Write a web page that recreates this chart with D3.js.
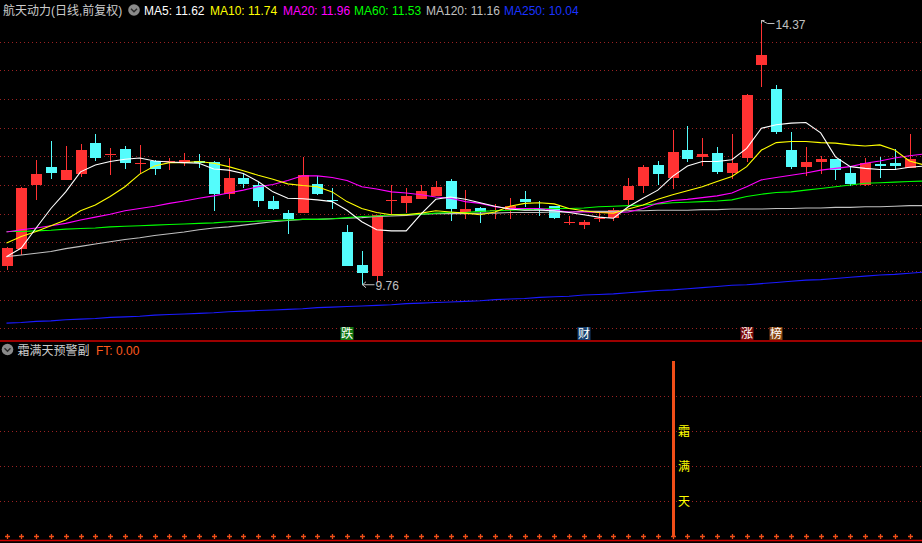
<!DOCTYPE html>
<html><head><meta charset="utf-8">
<script src="https://cdn.jsdelivr.net/npm/d3@7/dist/d3.min.js"></script>
<style>html,body{margin:0;padding:0;background:#000;overflow:hidden}svg{display:block}</style>
</head><body>
<svg id="chart" width="922" height="543"></svg>
<script>
// ---------------- data ----------------
const stockName = "航天动力(日线,前复权)";
const opens  = [10.09,10.38,11.50,11.81,11.59,11.69,12.23,12.03,12.13,11.87,11.92,11.90,11.90,11.92,11.90,11.34,11.62,11.50,11.22,11.01,11.02,11.52,11.24,10.68,10.10,9.92,11.23,11.19,11.26,11.31,11.57,11.03,11.10,11.05,11.06,11.26,11.09,11.13,10.85,10.80,10.92,10.92,11.24,11.48,11.85,11.62,12.11,11.99,12.06,11.71,11.97,13.59,13.18,12.11,11.81,11.90,11.95,11.71,11.50,11.87,11.89,11.80];
const highs  = [10.41,11.46,11.94,12.27,12.18,12.22,12.39,12.15,12.18,12.20,11.94,11.97,12.06,12.04,11.91,11.97,11.69,11.55,11.31,11.06,11.99,11.66,11.45,10.80,10.35,10.98,11.50,11.45,11.50,11.57,11.61,11.41,11.12,11.17,11.27,11.40,11.22,11.14,10.96,10.89,11.05,11.10,11.62,11.85,11.92,12.46,12.53,12.32,12.16,12.39,13.08,14.37,13.24,12.43,12.16,12.01,11.96,11.83,11.97,11.99,12.13,12.39];
const lows   = [10.02,10.28,11.24,11.61,11.58,11.64,11.92,11.67,11.78,11.69,11.67,11.76,11.83,11.80,11.05,11.26,11.45,11.12,11.07,10.65,11.01,11.32,11.08,10.09,9.76,9.81,10.99,11.01,11.25,11.30,10.87,10.91,10.84,10.91,10.91,11.12,10.96,10.91,10.80,10.73,10.85,10.87,11.15,11.36,11.50,11.43,11.90,11.83,11.69,11.61,11.90,13.21,12.39,11.78,11.66,11.69,11.59,11.48,11.49,11.63,11.77,11.79];
const closes = [10.40,11.45,11.69,11.71,11.76,12.11,11.97,12.04,11.88,11.88,11.78,11.92,11.94,11.88,11.34,11.62,11.52,11.22,11.08,10.91,11.67,11.34,11.23,10.09,9.97,10.98,11.24,11.31,11.40,11.47,11.08,11.08,11.03,11.07,11.13,11.20,11.08,10.92,10.86,10.85,10.93,11.07,11.48,11.81,11.69,12.08,11.95,12.04,11.73,11.88,13.07,13.77,12.43,11.81,11.90,11.95,11.76,11.52,11.88,11.84,11.84,11.95];

// moving averages (one extra point at the right edge of the window)
const ma5   = [10.25,10.40,10.75,11.09,11.38,11.73,11.85,11.91,11.95,11.97,11.92,11.90,11.89,11.88,11.78,11.76,11.70,11.56,11.38,11.27,11.26,11.24,11.21,11.06,10.86,10.72,10.70,10.70,10.99,11.25,11.29,11.25,11.19,11.13,11.08,11.06,11.06,11.05,11.02,10.98,10.94,10.92,11.12,11.27,11.41,11.65,11.83,11.91,11.91,11.94,12.14,12.49,12.55,12.58,12.59,12.41,11.99,11.82,11.79,11.77,11.77,11.81,11.83];
const ma10  = [10.49,10.60,10.69,10.79,10.89,11.05,11.15,11.30,11.47,11.69,11.83,11.89,11.89,11.91,11.88,11.82,11.75,11.67,11.60,11.52,11.49,11.47,11.38,11.21,11.09,11.02,10.98,10.98,11.01,11.05,11.03,11.01,10.98,11.03,11.13,11.18,11.19,11.17,11.09,11.05,11.02,11.01,11.08,11.15,11.25,11.33,11.40,11.47,11.56,11.65,11.82,12.11,12.24,12.26,12.26,12.24,12.23,12.20,12.18,12.20,12.11,11.92,11.85];
const ma20  = [10.68,10.72,10.75,10.79,10.83,10.89,10.94,10.99,11.05,11.09,11.13,11.18,11.22,11.27,11.31,11.36,11.41,11.47,11.51,11.58,11.66,11.66,11.63,11.58,11.47,11.43,11.38,11.36,11.33,11.29,11.27,11.21,11.18,11.12,11.09,11.09,11.09,11.06,11.03,11.03,11.02,11.02,11.03,11.09,11.18,11.23,11.25,11.28,11.31,11.36,11.47,11.59,11.63,11.67,11.71,11.76,11.79,11.82,11.88,11.92,11.97,12.01,12.04];
const ma60  = [10.69,10.69,10.70,10.71,10.73,10.74,10.75,10.77,10.78,10.79,10.80,10.81,10.82,10.83,10.84,10.86,10.86,10.87,10.88,10.89,10.90,10.90,10.91,10.93,10.95,10.96,10.98,10.99,10.99,11.01,11.02,11.02,11.04,11.05,11.06,11.07,11.08,11.09,11.09,11.10,11.12,11.13,11.14,11.15,11.17,11.19,11.20,11.21,11.22,11.24,11.30,11.34,11.37,11.38,11.41,11.44,11.47,11.50,11.53,11.54,11.55,11.56,11.57];
const ma120 = [10.25,10.28,10.31,10.34,10.39,10.43,10.47,10.51,10.55,10.58,10.62,10.65,10.68,10.72,10.75,10.77,10.80,10.83,10.86,10.88,10.90,10.90,10.91,10.92,10.93,10.95,10.96,10.97,10.99,11.00,11.00,11.00,11.01,11.01,11.02,11.02,11.02,11.03,11.03,11.04,11.04,11.04,11.05,11.05,11.06,11.06,11.06,11.07,11.07,11.08,11.08,11.08,11.09,11.09,11.10,11.10,11.11,11.11,11.12,11.12,11.13,11.14,11.14];
const ma250 = [9.09,9.10,9.12,9.13,9.15,9.16,9.17,9.19,9.20,9.21,9.23,9.24,9.25,9.26,9.27,9.29,9.30,9.31,9.32,9.33,9.34,9.36,9.37,9.38,9.39,9.40,9.41,9.43,9.44,9.45,9.46,9.47,9.48,9.50,9.51,9.52,9.54,9.55,9.56,9.58,9.59,9.60,9.62,9.64,9.66,9.67,9.69,9.71,9.73,9.75,9.76,9.78,9.80,9.82,9.84,9.85,9.87,9.89,9.91,9.93,9.94,9.96,9.98];

const maNames  = ["MA5","MA10","MA20","MA60","MA120","MA250"];
const maLast   = ["11.62","11.74","11.96","11.53","11.16","10.04"];
const priceTicks = [9,9.5,10,10.5,11,11.5,12,12.5,13,13.5,14];

// event badges under the K-line panel: candle index, text
const badgeIndex = [23, 39, 50, 52];
const badgeText  = ["跌","财","涨","榜"];

// sub indicator 霜满天预警副
const subName = "霜满天预警副";
const ftLabel = "FT: 0.00";
const ftValues = [0,0,0,0,0,0,0,0,0,0,0,0,0,0,0,0,0,0,0,0,0,0,0,0,0,0,0,0,0,0,0,0,0,0,0,0,0,0,0,0,0,0,0,0,0,5,0,0,0,0,0,0,0,0,0,0,0,0,0,0,0,0];
const ftText = "霜满天";
const ftTextLevels = [3,2,1];
const subTicks = [1,2,3,4];

// ---------------- drawing ----------------
const W = 922, H = 543;
const svg = d3.select("#chart");
const FONT = "'Liberation Sans','Noto Sans CJK SC',sans-serif";
svg.append("rect").attr("width",W).attr("height",H).attr("fill","#000");

const x = d3.scaleLinear().domain([0, 61]).range([6.5, 909.5]);
const y = d3.scaleLinear().domain([9, 14]).range([328.3, 41.7]);
const ySub = d3.scaleLinear().domain([0, 5]).range([536.3, 361.3]);

const UP = "#ff3232", DOWN = "#54fcfc", GRID = "#9a2222";
const maColors = ["#ffffff","#ffff00","#ff00ff","#00ff00","#c0c0c0","#1a1aff"];

// clip for main panel
svg.append("clipPath").attr("id","mainClip").append("rect").attr("x",0).attr("y",0).attr("width",W).attr("height",340);

// price grid
svg.append("g").selectAll("line").data(priceTicks).join("line")
  .attr("x1",0).attr("x2",W)
  .attr("y1",d=>Math.round(y(d))+0.5).attr("y2",d=>Math.round(y(d))+0.5)
  .attr("stroke",GRID).attr("stroke-width",1).attr("stroke-dasharray","1,3");

// MA lines (behind candles? in reference lines drawn over candles)
const candles = opens.map((o,i)=>({i, o, h:highs[i], l:lows[i], c:closes[i]}));
const cg = svg.append("g").attr("shape-rendering","crispEdges");
cg.selectAll("line.wick").data(candles).join("line").attr("class","wick")
  .attr("x1",d=>Math.round(x(d.i))+0.5).attr("x2",d=>Math.round(x(d.i))+0.5)
  .attr("y1",d=>y(d.h)).attr("y2",d=>y(d.l))
  .attr("stroke",d=>d.c>=d.o?UP:DOWN).attr("stroke-width",1);
cg.selectAll("rect.body").data(candles).join("rect").attr("class","body")
  .attr("x",d=>Math.round(x(d.i))-5).attr("width",11)
  .attr("y",d=>y(Math.max(d.o,d.c)))
  .attr("height",d=>Math.max(1, y(Math.min(d.o,d.c))-y(Math.max(d.o,d.c))))
  .attr("fill",d=>d.c>=d.o?UP:DOWN);

const maSeries = [ma5, ma10, ma20, ma60, ma120, ma250];
const line = d3.line().x((d,i)=>x(i)).y(d=>y(d));
const lg = svg.append("g").attr("clip-path","url(#mainClip)");
maSeries.slice().reverse().forEach((s,k)=>{
  const idx = maSeries.length-1-k;
  lg.append("path").datum(s).attr("d",line).attr("fill","none")
    .attr("stroke",maColors[idx]).attr("stroke-width",1.1);
});

// high / low markers
const hiIdx = d3.maxIndex(highs), loIdx = d3.minIndex(lows);
const hx = Math.round(x(hiIdx))+0.5, hy = y(highs[hiIdx]);
svg.append("path").attr("d",`M${hx},${hy} L${hx+3},${hy} M${hx},${hy} L${hx},${hy+3} M${hx},${hy} L${hx+6},${hy+3} L${hx+13},${hy+3}`)
  .attr("stroke","#c0c0c0").attr("fill","none").attr("stroke-width",1);
svg.append("text").attr("x",hx+14).attr("y",hy+9).text(d3.format(".2f")(highs[hiIdx]))
  .attr("fill","#c0c0c0").attr("font-size",12).attr("font-family",FONT);
const lx = Math.round(x(loIdx))+0.5, ly = y(lows[loIdx]);
svg.append("path").attr("d",`M${lx},${ly} L${lx+12},${ly} M${lx},${ly} L${lx+3.5},${ly-3} M${lx},${ly} L${lx+3.5},${ly+3}`)
  .attr("stroke","#c0c0c0").attr("fill","none").attr("stroke-width",1);
svg.append("text").attr("x",lx+13).attr("y",ly+5.5).text(d3.format(".2f")(lows[loIdx]))
  .attr("fill","#c0c0c0").attr("font-size",12).attr("font-family",FONT);

// badges
const badgeColors = ["#127812","#173f6e","#7d0a0a","#8a4612"];
const bg = svg.append("g");
badgeIndex.forEach((bi,k)=>{
  const cx = Math.round(x(bi));
  bg.append("rect").attr("x",cx-6.5).attr("y",327).attr("width",13).attr("height",13).attr("fill",badgeColors[k]);
  bg.append("text").attr("x",cx).attr("y",338).attr("text-anchor","middle").text(badgeText[k])
    .attr("fill","#ffffff").attr("font-size",12).attr("font-family","'Noto Sans CJK SC',sans-serif");
});

// separators
svg.append("line").attr("x1",0).attr("x2",W).attr("y1",341).attr("y2",341).attr("stroke","#d00000").attr("stroke-width",1.5);
svg.append("line").attr("x1",0).attr("x2",W).attr("y1",540.5).attr("y2",540.5).attr("stroke","#d00000").attr("stroke-width",1.5);

// header
function icon(cx, cy){
  svg.append("circle").attr("cx",cx).attr("cy",cy).attr("r",5.8).attr("fill","#8a8a8a");
  svg.append("path").attr("d",`M${cx-3},${cy-1.3} L${cx},${cy+1.7} L${cx+3},${cy-1.3}`)
    .attr("stroke","#2a2a2a").attr("stroke-width",1.4).attr("fill","none");
}
svg.append("text").attr("x",3).attr("y",15).text(stockName)
  .attr("fill","#cccccc").attr("font-size",12).attr("font-family",FONT);
icon(134, 10);
const headerX = [144, 210, 283, 354, 426, 504];
maNames.forEach((n,k)=>{
  svg.append("text").attr("x",headerX[k]).attr("y",15).text(`${n}: ${maLast[k]}`)
    .attr("fill", k===5 ? "#1a33ff" : maColors[k]).attr("font-size",12).attr("font-family",FONT);
});

// sub panel
svg.append("g").selectAll("line").data(subTicks).join("line")
  .attr("x1",0).attr("x2",W)
  .attr("y1",d=>Math.round(ySub(d))+0.5).attr("y2",d=>Math.round(ySub(d))+0.5)
  .attr("stroke",GRID).attr("stroke-width",1).attr("stroke-dasharray","1,3");
icon(7.5, 349.5);
svg.append("text").attr("x",17.5).attr("y",354.5).text(subName)
  .attr("fill","#cccccc").attr("font-size",12).attr("font-family",FONT);
svg.append("text").attr("x",96).attr("y",354.5).text(ftLabel)
  .attr("fill","#ff5a1e").attr("font-size",12).attr("font-family",FONT);

const FT = "#f04e18";
svg.append("g").attr("shape-rendering","crispEdges").selectAll("rect").data(ftValues.map((v,i)=>({v,i})).filter(d=>d.v>0)).join("rect")
  .attr("x",d=>Math.round(x(d.i))-1.5).attr("width",3)
  .attr("y",d=>ySub(d.v)).attr("height",d=>ySub(0)-ySub(d.v)+0.5)
  .attr("fill",FT);
// zero-level crosses
svg.append("g").selectAll("path").data(ftValues.map((v,i)=>i)).join("path")
  .attr("d",i=>{const cx=Math.round(x(i))+0.5, cy=Math.round(ySub(0))+0.5; return `M${cx-2.5},${cy} L${cx+2.5},${cy} M${cx},${cy-2.5} L${cx},${cy+2.5}`;})
  .attr("stroke",FT).attr("stroke-width",1.3);
// vertical signal text
const sigIdx = ftValues.findIndex(v=>v>0);
ftText.split("").forEach((ch,k)=>{
  svg.append("text").attr("x",Math.round(x(sigIdx))+11).attr("y",ySub(ftTextLevels[k])+5)
    .attr("text-anchor","middle").text(ch)
    .attr("fill","#ffff00").attr("font-size",12).attr("font-family","'Noto Sans CJK SC',sans-serif");
});
</script>
</body></html>
